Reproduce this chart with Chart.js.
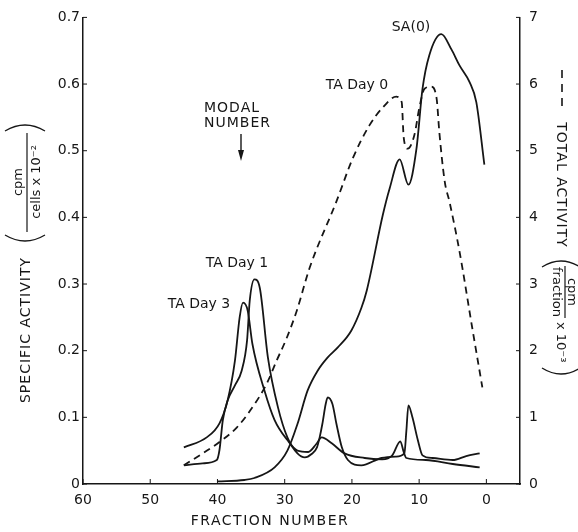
<!DOCTYPE html>
<html lang="en">
<head>
<meta charset="UTF-8">
<title>Fraction activity</title>
<script src="https://cdn.jsdelivr.net/npm/chart.js@4"></script>
<style>
  body { margin: 0; background: #fff; }
  #wrap { width: 578px; height: 532px; }
</style>
</head>
<body>
<div id="wrap"><canvas id="fractionChart" width="578" height="532"></canvas></div>
<script>
// SA(0): specific activity per fraction
const saFraction = [40, 36, 34.5, 31.5, 29.6, 28.1, 26.6, 25.1, 23.6, 22.1, 20.1, 18.6, 17.8, 15.4, 14.4, 12.9, 11.6, 10.4, 9.5, 8.5, 6.7, 5.2, 4.0, 2.5, 1.5, 0.3];
const saActivity = [0.004, 0.006, 0.009, 0.025, 0.05, 0.09, 0.14, 0.17, 0.19, 0.205, 0.23, 0.264, 0.29, 0.404, 0.443, 0.487, 0.449, 0.503, 0.593, 0.643, 0.675, 0.652, 0.628, 0.603, 0.573, 0.479];

// TA day 0: total activity (right axis, cpm/fraction x 10^-3)
const day0Fraction = [45, 42.2, 39.7, 37.1, 34.8, 32.7, 31.2, 29.7, 28.2, 26.3, 22.3, 19.9, 17.4, 15.4, 13.4, 12.6, 12.3, 11.7, 10.7, 10.0, 9.2, 8.2, 7.4, 7.0, 6.2, 5.5, 4.0, 2.1, 0.6];
const day0Total = [0.28, 0.46, 0.63, 0.85, 1.15, 1.5, 1.85, 2.19, 2.6, 3.24, 4.24, 4.88, 5.38, 5.65, 5.81, 5.73, 5.2, 5.03, 5.24, 5.63, 5.93, 5.96, 5.78, 5.28, 4.54, 4.24, 3.49, 2.34, 1.45];

// TA day 1: specific activity
const day1Fraction = [45, 42.2, 40.1, 39.7, 39.2, 38.5, 37.4, 36.4, 35.6, 35.2, 34.5, 33.7, 32.5, 31.0, 29.6, 28.1, 27.0, 26.0, 25.2, 24.8, 24.4, 23.9, 23.6, 22.9, 22.3, 21.5, 20.6, 18.6, 15.6, 13.5, 12.2, 11.9, 11.6, 11.0, 10.2, 9.5, 8.0, 5.0, 3.0, 1.0];
const day1Activity = [0.028, 0.031, 0.036, 0.051, 0.096, 0.125, 0.148, 0.17, 0.215, 0.275, 0.307, 0.294, 0.19, 0.115, 0.07, 0.046, 0.04, 0.045, 0.055, 0.07, 0.09, 0.12, 0.13, 0.12, 0.09, 0.055, 0.036, 0.028, 0.039, 0.041, 0.046, 0.08, 0.118, 0.1, 0.066, 0.043, 0.039, 0.036, 0.042, 0.046];

// TA day 3: specific activity
const day3Fraction = [45, 41.6, 39.7, 38.5, 37.4, 36.7, 36.2, 35.5, 34.8, 33.0, 31.5, 29.6, 28.1, 26.5, 25.3, 24.5, 23.0, 21.1, 18.1, 15.5, 14.0, 12.8, 12.3, 11.9, 9.0, 5.0, 1.0];
const day3Activity = [0.055, 0.07, 0.091, 0.125, 0.185, 0.25, 0.272, 0.26, 0.21, 0.14, 0.096, 0.066, 0.05, 0.048, 0.06, 0.07, 0.061, 0.046, 0.039, 0.037, 0.043, 0.064, 0.048, 0.039, 0.036, 0.03, 0.025];

const fractionTicks = [60, 50, 40, 30, 20, 10, 0];
const specificTicks = [0, 0.1, 0.2, 0.3, 0.4, 0.5, 0.6, 0.7];
const totalTicks = [0, 1, 2, 3, 4, 5, 6, 7];

const INK = '#161616';
const FONT = '"DejaVu Sans", sans-serif';

function points(xs, ys) {
  return xs.map((x, i) => ({ x: x, y: ys[i] }));
}

function setTicks(values) {
  return scale => { scale.ticks = values.map(v => ({ value: v })); };
}

// short tick marks pointing into the plot
const innerTicks = {
  id: 'innerTicks',
  afterDraw(chart) {
    const { ctx, chartArea: a, scales } = chart;
    ctx.save();
    ctx.strokeStyle = INK;
    ctx.lineWidth = 1;
    ctx.beginPath();
    scales.x.ticks.forEach(t => {
      const px = scales.x.getPixelForValue(t.value);
      ctx.moveTo(px, a.bottom);
      ctx.lineTo(px, a.bottom - 5);
    });
    scales.y.ticks.forEach(t => {
      const py = scales.y.getPixelForValue(t.value);
      ctx.moveTo(a.left, py);
      ctx.lineTo(a.left + 4, py);
    });
    scales.y2.ticks.forEach(t => {
      const py = scales.y2.getPixelForValue(t.value);
      ctx.moveTo(a.right, py);
      ctx.lineTo(a.right - 4, py);
    });
    ctx.stroke();
    ctx.restore();
  }
};

function text(ctx, s, x, y, size, align, spacing) {
  ctx.font = size + 'px ' + FONT;
  ctx.letterSpacing = (spacing || 0) + 'px';
  ctx.textAlign = align || 'center';
  ctx.fillText(s, x, y);
}

// thin bracket arc; dir -1 bulges back along the text, +1 forward
function paren(ctx, u, w, half, dir) {
  ctx.beginPath();
  ctx.moveTo(u - dir * 6, w - half);
  ctx.quadraticCurveTo(u + dir * 6, w, u - dir * 6, w + half);
  ctx.stroke();
}

// axis titles, curve labels and the modal number arrow
const labels = {
  id: 'labels',
  afterDraw(chart) {
    const ctx = chart.ctx;
    ctx.save();
    ctx.fillStyle = INK;
    ctx.strokeStyle = INK;
    ctx.textBaseline = 'middle';

    text(ctx, 'FRACTION NUMBER', 270, 521, 14, 'center', 1.5);

    text(ctx, 'SA(0)', 411, 27, 14);
    text(ctx, 'TA Day 0', 357, 85, 14);
    text(ctx, 'TA Day 1', 237, 263, 14);
    text(ctx, 'TA Day 3', 199, 304, 14);

    text(ctx, 'MODAL', 204, 108, 14, 'left', 1);
    text(ctx, 'NUMBER', 204, 123, 14, 'left', 1);
    ctx.lineWidth = 1.4;
    ctx.beginPath();
    ctx.moveTo(241, 134);
    ctx.lineTo(241, 154);
    ctx.stroke();
    ctx.beginPath();
    ctx.moveTo(238, 150);
    ctx.lineTo(244, 150);
    ctx.lineTo(241, 161);
    ctx.closePath();
    ctx.fill();

    // left title, reading upwards
    ctx.save();
    ctx.translate(27, 330);
    ctx.rotate(-Math.PI / 2);
    ctx.textBaseline = 'alphabetic';
    text(ctx, 'SPECIFIC ACTIVITY', 0, 3, 14, 'center', 1);
    ctx.lineWidth = 1.3;
    paren(ctx, 89, -2, 20, -1);
    paren(ctx, 205, -2, 20, 1);
    text(ctx, 'cpm', 148, -5, 13);
    text(ctx, 'cells x 10⁻²', 148, 13, 13);
    ctx.lineWidth = 1.2;
    ctx.beginPath();
    ctx.moveTo(98, 0);
    ctx.lineTo(197, 0);
    ctx.stroke();
    ctx.restore();

    // right title, reading downwards
    ctx.save();
    ctx.translate(565, 0);
    ctx.rotate(Math.PI / 2);
    ctx.textBaseline = 'alphabetic';
    text(ctx, 'TOTAL ACTIVITY', 185, 8, 14, 'center', 1);
    ctx.lineWidth = 1.6;
    ctx.setLineDash([8, 6]);
    ctx.beginPath();
    ctx.moveTo(70, 3);
    ctx.lineTo(112, 3);
    ctx.stroke();
    ctx.setLineDash([]);
    ctx.lineWidth = 1.3;
    paren(ctx, 261, 4, 19, -1);
    paren(ctx, 374, 4, 19, 1);
    ctx.textBaseline = 'middle';
    text(ctx, 'x 10⁻³', 322, 5, 13, 'left');
    ctx.textBaseline = 'alphabetic';
    text(ctx, 'cpm', 292, -3, 13);
    text(ctx, 'fraction', 292, 12, 13);
    ctx.lineWidth = 1.2;
    ctx.beginPath();
    ctx.moveTo(266, 0);
    ctx.lineTo(318, 0);
    ctx.stroke();
    ctx.restore();

    ctx.restore();
  }
};

const tickFont = { family: FONT, size: 14 };

const ctx = document.getElementById('fractionChart').getContext('2d');
new Chart(ctx, {
  type: 'line',
  data: {
    datasets: [
      { label: 'SA(0)', data: points(saFraction, saActivity), yAxisID: 'y', borderColor: INK },
      { label: 'TA Day 0', data: points(day0Fraction, day0Total), yAxisID: 'y2', borderColor: INK, borderDash: [7, 5] },
      { label: 'TA Day 1', data: points(day1Fraction, day1Activity), yAxisID: 'y', borderColor: INK },
      { label: 'TA Day 3', data: points(day3Fraction, day3Activity), yAxisID: 'y', borderColor: INK }
    ]
  },
  options: {
    responsive: false,
    animation: false,
    layout: { padding: { top: 15 } },
    elements: {
      point: { radius: 0 },
      line: { borderWidth: 1.8, cubicInterpolationMode: 'monotone', fill: false }
    },
    plugins: {
      legend: { display: false },
      tooltip: { enabled: false }
    },
    scales: {
      x: {
        type: 'linear',
        reverse: true,
        min: -5,
        max: 60,
        afterBuildTicks: setTicks(fractionTicks),
        afterFit: s => { s.height = 48; },
        grid: { drawOnChartArea: false, drawTicks: false },
        border: { color: INK, width: 1.5 },
        ticks: { color: INK, font: tickFont, padding: 8, maxRotation: 0 }
      },
      y: {
        position: 'left',
        min: 0,
        max: 0.7,
        afterBuildTicks: setTicks(specificTicks),
        afterFit: s => { s.width = 83; },
        grid: { drawOnChartArea: false, drawTicks: false },
        border: { color: INK, width: 1.5 },
        ticks: {
          color: INK,
          font: tickFont,
          padding: 3,
          callback: v => v === 0 ? '0' : v.toFixed(1)
        }
      },
      y2: {
        position: 'right',
        min: 0,
        max: 7,
        afterBuildTicks: setTicks(totalTicks),
        afterFit: s => { s.width = 58; },
        grid: { drawOnChartArea: false, drawTicks: false },
        border: { color: INK, width: 1.5 },
        ticks: { color: INK, font: tickFont, padding: 9 }
      }
    }
  },
  plugins: [innerTicks, labels]
});
</script>
</body>
</html>
